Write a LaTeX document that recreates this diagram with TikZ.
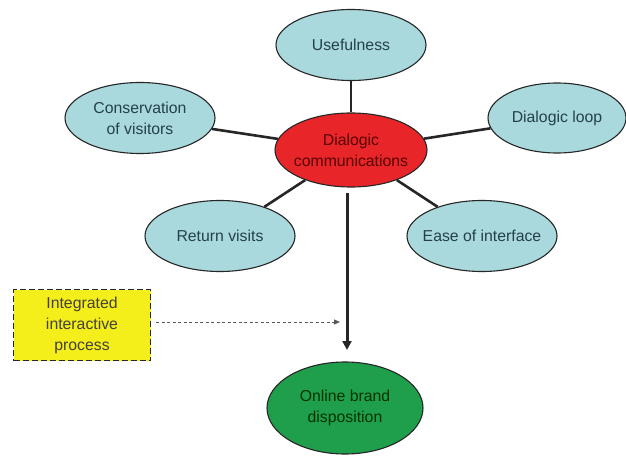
\documentclass[tikz,border=0pt]{standalone}
\usepackage{fontspec}
\setmainfont{Liberation Sans}
\usetikzlibrary{shapes.geometric,arrows.meta}
\definecolor{lblue}{HTML}{A9D9DD}
\definecolor{rred}{HTML}{E8262A}
\definecolor{ggreen}{HTML}{1F9E4B}
\definecolor{yyellow}{HTML}{F4EE1A}
\definecolor{txt}{HTML}{24404A}
\definecolor{edge}{HTML}{262626}
\tikzset{
  bubble/.style={ellipse, draw=edge, line width=1.1pt, fill=lblue, inner sep=0pt,
    minimum width=150pt, minimum height=71pt},
  btext/.style={align=center, text=txt, font=\fontsize{15.8}{21}\selectfont},
  spoke/.style={draw=edge, line width=2.6pt},
}
\begin{document}
\begin{tikzpicture}[x=1pt,y=-1pt]
\useasboundingbox (0,0) rectangle (626,457);
\fill[white] (0,0) rectangle (626,457);
\node[bubble, fill=rred, minimum width=152pt, minimum height=74pt,
  label={[btext, text=black!65!red]center:Dialogic\\communications}] (dc) at (351,150) {};
\node[bubble, label={[btext]center:Usefulness}] (use) at (351,45) {};
\node[bubble, minimum width=138pt, minimum height=70pt, label={[btext]center:Dialogic loop}] (loop) at (557,118) {};
\node[bubble, label={[btext]center:Conservation\\of visitors}] (cons) at (140,118) {};
\node[bubble, label={[btext]center:Return visits}] (ret) at (220,236) {};
\node[bubble, label={[btext]center:Ease of interface}] (ease) at (482,236) {};
\node[bubble, fill=ggreen, minimum width=156pt, minimum height=92pt,
  label={[btext, text=black!80!green]center:Online brand\\disposition}] (obd) at (345,408) {};
\node[draw=edge, line width=1.7pt, dash pattern=on 6pt off 3pt, fill=yyellow, minimum width=137pt, minimum height=71pt, align=center, text=black!85!yellow, font=\fontsize{15.8}{21}\selectfont, inner sep=0pt] (iip) at (82,325) {Integrated\\interactive\\process};
\draw[spoke] (use) -- (dc);
\draw[spoke] (loop) -- (dc);
\draw[spoke] (cons) -- (dc);
\draw[spoke] (ret) -- (dc);
\draw[spoke] (ease) -- (dc);
\coordinate (top) at (347,193);
\coordinate (tip) at (347,350);
\draw[draw=edge, line width=3pt, -{Triangle[length=9pt,width=9pt]}] (top) -- (tip);
\coordinate (dend) at (340,322);
\draw[draw=gray!70!black, line width=1pt, dash pattern=on 3pt off 2.5pt, -{Triangle[length=6pt,width=5pt]}] (iip.east) ++(5,-3) -- (dend);
\end{tikzpicture}
\end{document}
